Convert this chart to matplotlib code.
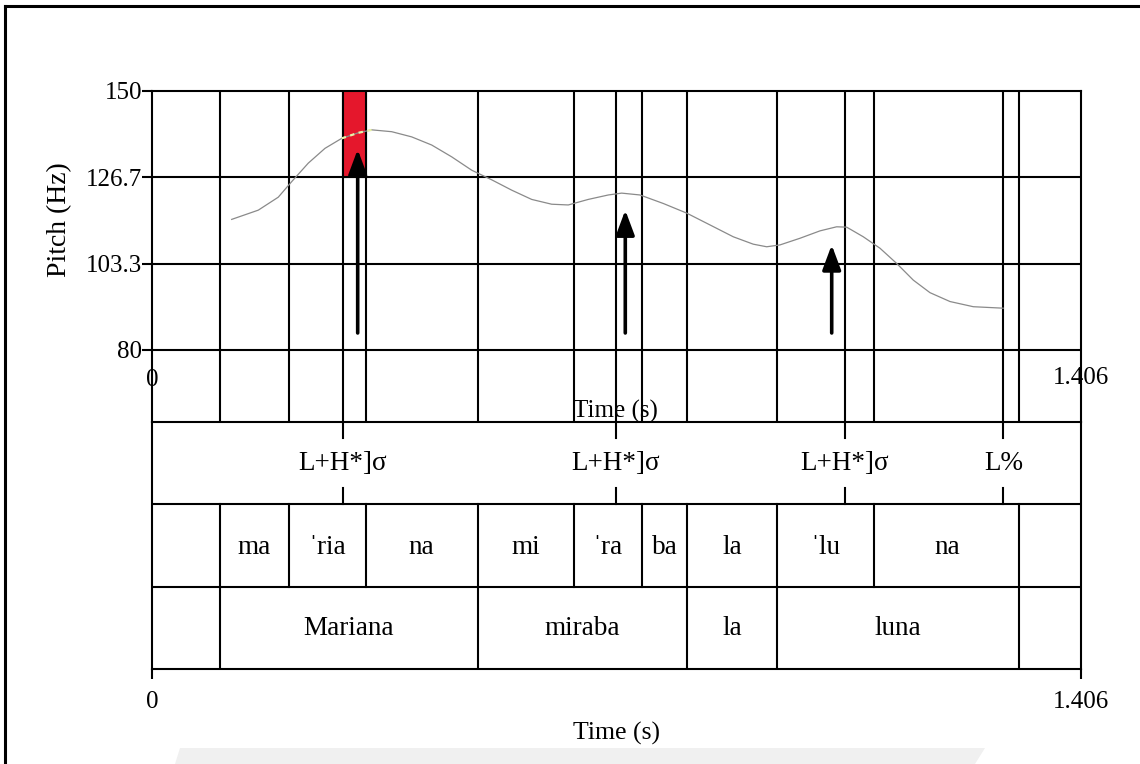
import numpy as np
import matplotlib
matplotlib.use('Agg')
import matplotlib.pyplot as plt
from matplotlib.patches import Rectangle, Polygon

plt.rcParams['font.family'] = ['Liberation Serif', 'DejaVu Serif']

# time axis
t_end = 1.406

# pitch contour (time s, Hz)
pitch_t = [0.1206, 0.1609, 0.1911, 0.2114, 0.2365, 0.2618, 0.2871, 0.3122, 0.3325, 0.3628,
           0.3930, 0.4233, 0.4536, 0.4838, 0.5141, 0.5444, 0.5746, 0.6049, 0.6300, 0.6603,
           0.6906, 0.7108, 0.7385, 0.7738, 0.8092, 0.8445, 0.8797, 0.9100, 0.9303, 0.9504,
           0.9807, 1.0110, 1.0362, 1.0514, 1.0765, 1.1018, 1.1270, 1.1521, 1.1774, 1.2077,
           1.2430, 1.2884]
pitch_hz = [115.3, 117.8, 121.3, 125.5, 130.5, 134.5, 137.2, 138.7, 139.5, 139.0,
            137.6, 135.4, 132.2, 128.6, 126.0, 123.2, 120.7, 119.4, 119.2, 120.7,
            121.9, 122.4, 121.9, 119.6, 117.0, 113.8, 110.6, 108.6, 107.9, 108.4,
            110.2, 112.2, 113.3, 113.2, 110.6, 107.5, 103.4, 98.9, 95.5, 93.1,
            91.7, 91.3]

# text grid
tone_t = [0.2891, 0.7015, 1.0485, 1.2884]
tone_lab = ['L+H*]σ', 'L+H*]σ', 'L+H*]σ', 'L%']
syl_b = [0.1029, 0.2066, 0.3234, 0.4929, 0.6382, 0.7411, 0.8104, 0.9455, 1.0932, 1.3126]
syl_lab = ['ma', 'ˈria', 'na', 'mi', 'ˈra', 'ba', 'la', 'ˈlu', 'na']
word_b = [0.1029, 0.4929, 0.8104, 0.9455, 1.3126]
word_lab = ['Mariana', 'miraba', 'la', 'luna']

# arrows (time, tail Hz, tip Hz)
arrow_t = [0.3113, 0.7163, 1.0287]
arrow_tail = [84.6, 84.6, 84.6]
arrow_tip = [134.2, 117.8, 108.4]

yticks = [80, 103.3, 126.7, 150]
ytick_lab = ['80', '103.3', '126.7', '150']

W, H = 1140, 764
fig = plt.figure(figsize=(W / 100, H / 100), dpi=100)
fs_tick = 18
fs_lab = 19.5
lw = 1.5

# outer frame
fig.add_artist(plt.Line2D([5 / W, 5 / W], [0, 1 - 6 / H], color='k', lw=2.2))
fig.add_artist(plt.Line2D([5 / W, 1], [1 - 6 / H, 1 - 6 / H], color='k', lw=2.2))
# faint watermark band at the bottom
fig.add_artist(Polygon([(175 / W, 0), (180 / W, 16 / H), (985 / W, 16 / H), (975 / W, 0)],
                       closed=True, color='#f0f0f0', lw=0, zorder=0))

x0, x1 = 152, 1081
left, width = x0 / W, (x1 - x0) / W
y_top, y_mid, y_bot = 91, 422, 669

# ---- pitch panel ----
ax = fig.add_axes([left, (H - y_mid) / H, width, (y_mid - y_top) / H])
px_per_hz = (350 - 91) / 70.0
ymin = 80 - (y_mid - 350) / px_per_hz
ax.set_xlim(0, t_end)
ax.set_ylim(ymin, 150)
for s in ['left', 'top', 'right']:
    ax.spines[s].set_linewidth(lw)
ax.spines['bottom'].set_visible(False)
ax.set_xticks([])
ax.set_yticks(yticks)
ax.set_yticklabels(ytick_lab, fontsize=fs_tick)
ax.tick_params(axis='y', length=7, width=lw, pad=0)
ax.set_ylabel('Pitch (Hz)', fontsize=20)
ax.yaxis.set_label_coords(-0.086, 0.61)

for y in yticks[:-1]:
    ax.axhline(y, color='k', lw=lw, zorder=2)
for t in sorted(set(syl_b + tone_t)):
    ax.axvline(t, color='k', lw=lw, zorder=2)

# highlighted accent region
ax.add_patch(Rectangle((tone_t[0], 126.7), syl_b[2] - tone_t[0], 150 - 126.7,
                       facecolor='#e5172c', edgecolor='k', lw=lw, zorder=3))

ax.plot(pitch_t, pitch_hz, color='#8a8a8a', lw=0.9, zorder=4)
inside = [i for i, t in enumerate(pitch_t) if tone_t[0] <= t <= syl_b[2]]
seg = [inside[0] - 1] + inside + [inside[-1] + 1]
ax.plot([pitch_t[i] for i in seg], [pitch_hz[i] for i in seg], color='#e9f2a8',
        lw=1.6, ls=(0, (2, 2)), zorder=5)

for t, a, b in zip(arrow_t, arrow_tail, arrow_tip):
    ax.annotate('', xy=(t, b), xytext=(t, a),
                arrowprops=dict(arrowstyle='-|>,head_length=0.75,head_width=0.28',
                                mutation_scale=20, lw=2.6, color='k',
                                shrinkA=0, shrinkB=0), zorder=6)

ax.text(0, 150 - (380 - 91) / px_per_hz, '0', fontsize=fs_tick, ha='center', va='center')
ax.text(t_end, 150 - (378 - 91) / px_per_hz, '1.406', fontsize=fs_tick, ha='center',
        va='center', clip_on=False)
ax.text(0.7007, 150 - (411 - 91) / px_per_hz, 'Time (s)', fontsize=fs_tick, ha='center',
        va='center', zorder=7)

# ---- text grid ----
tg = fig.add_axes([left, (H - y_bot) / H, width, (y_bot - y_mid) / H])
tg.set_xlim(0, t_end)
tg.set_ylim(0, 3)
for s in tg.spines.values():
    s.set_linewidth(lw)
tg.set_xticks([0, t_end])
tg.set_xticklabels(['0', '1.406'], fontsize=fs_tick)
tg.tick_params(axis='x', length=7, width=lw, pad=9)
tg.set_yticks([])
tg.axhline(1, color='k', lw=lw)
tg.axhline(2, color='k', lw=lw)
tg.set_xlabel('Time (s)', fontsize=18.5, labelpad=6)

tick = 16 / ((y_bot - y_mid) / 3)
for t, lab in zip(tone_t, tone_lab):
    tg.plot([t, t], [3, 3 - tick], color='k', lw=lw)
    tg.plot([t, t], [2, 2 + tick], color='k', lw=lw)
    tg.text(t, 2.49, lab, fontsize=fs_lab, ha='center', va='center')

for t in syl_b:
    tg.plot([t, t], [1, 2], color='k', lw=lw)
for a, b, lab in zip(syl_b[:-1], syl_b[1:], syl_lab):
    tg.text((a + b) / 2, 1.48, lab, fontsize=fs_lab, ha='center', va='center')

for t in word_b:
    tg.plot([t, t], [0, 1], color='k', lw=lw)
for a, b, lab in zip(word_b[:-1], word_b[1:], word_lab):
    tg.text((a + b) / 2, 0.49, lab, fontsize=fs_lab, ha='center', va='center')

fig.savefig('out.png', dpi=100, facecolor='white')
